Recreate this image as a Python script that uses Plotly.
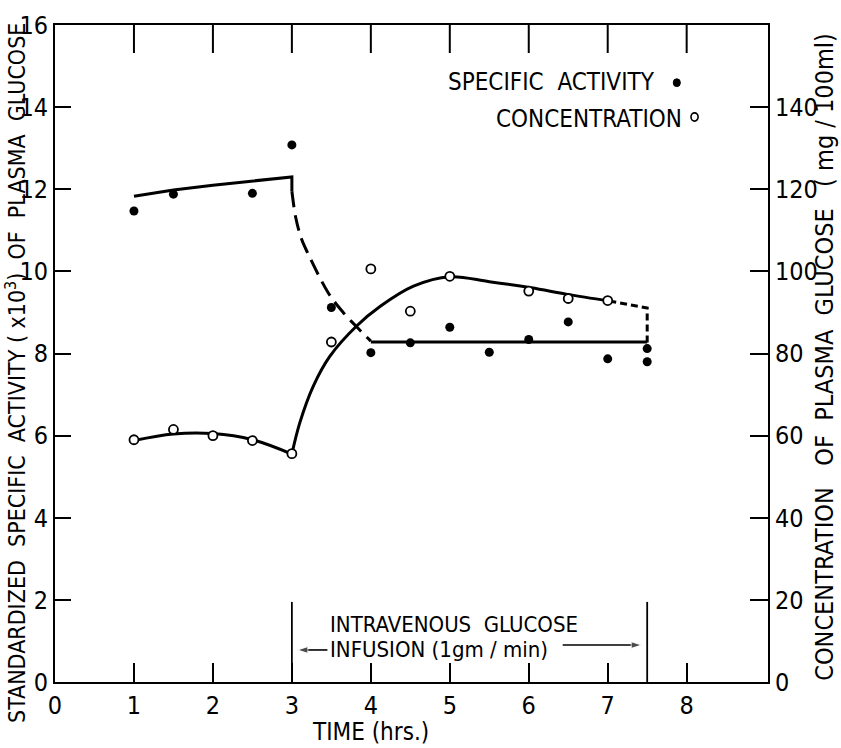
import plotly.graph_objects as go

# Measured points: standardized specific activity (x10^3), left axis
sa_time = [1.0, 1.5, 2.5, 3.0, 3.5, 4.0, 4.5, 5.0, 5.5, 6.0, 6.5, 7.0, 7.5, 7.5]
sa_value = [11.47, 11.88, 11.9, 13.08, 9.12, 8.02, 8.26, 8.64, 8.03, 8.34, 8.77, 7.87, 8.12, 7.8]

# Measured points: plasma glucose concentration (mg/100ml), right axis
conc_time = [1.0, 1.5, 2.0, 2.5, 3.0, 3.5, 4.0, 4.5, 5.0, 6.0, 6.5, 7.0]
conc_value = [59.0, 61.5, 60.0, 58.8, 55.6, 82.8, 100.6, 90.3, 98.8, 95.2, 93.4, 92.9]

# Hand-fitted curves through the specific activity points
sa_fit_pre_t = [1.0, 1.5, 2.0, 2.5, 3.0, 3.0]
sa_fit_pre_v = [11.83, 11.98, 12.1, 12.2, 12.3, 11.95]
sa_fit_drop_t = [3.0, 3.05, 3.12, 3.2, 3.46, 3.65, 3.82, 4.0]
sa_fit_drop_v = [11.95, 11.3, 10.8, 10.45, 9.48, 9.0, 8.65, 8.3]
sa_fit_post_t = [4.0, 7.5]
sa_fit_post_v = [8.28, 8.28]

# Hand-fitted curves through the concentration points
conc_fit_pre_t = [1.0, 1.5, 2.0, 2.5, 3.0]
conc_fit_pre_v = [58.8, 60.4, 60.5, 59.0, 55.5]
conc_fit_post_t = [3.0, 3.1, 3.27, 3.48, 3.82, 4.12, 4.54, 5.0, 5.5, 6.03, 6.49, 7.02]
conc_fit_post_v = [55.5, 63.1, 72.0, 79.3, 86.7, 91.5, 96.4, 98.7, 97.5, 96.0, 94.4, 92.8]
conc_fit_end_t = [7.02, 7.5, 7.5]
conc_fit_end_v = [92.8, 91.1, 81.0]

# Glucose infusion period (hrs)
infusion_start = 3.0
infusion_end = 7.5
infusion_marker_height = 1.95

# Axis ticks
x_ticks = [0, 1, 2, 3, 4, 5, 6, 7, 8]
left_ticks = [0, 2, 4, 6, 8, 10, 12, 14, 16]
right_ticks = [0, 20, 40, 60, 80, 100, 120, 140]
x_range = [0, 9.03]
y_range = [0, 16]

FONT = "Liberation Sans Narrow, DejaVu Sans Condensed, Roboto Condensed, Liberation Sans, sans-serif"
INK = "black"

fig = go.Figure()

# fitted curves
fig.add_trace(go.Scatter(x=sa_fit_pre_t, y=sa_fit_pre_v, mode="lines",
                         line=dict(color=INK, width=3), hoverinfo="skip"))
fig.add_trace(go.Scatter(x=sa_fit_drop_t, y=sa_fit_drop_v, mode="lines",
                         line=dict(color=INK, width=3, shape="spline", dash="16px,8px"),
                         hoverinfo="skip"))
fig.add_trace(go.Scatter(x=sa_fit_post_t, y=sa_fit_post_v, mode="lines",
                         line=dict(color=INK, width=3), hoverinfo="skip"))
fig.add_trace(go.Scatter(x=conc_fit_pre_t, y=conc_fit_pre_v, mode="lines", yaxis="y2",
                         line=dict(color=INK, width=3, shape="spline"), hoverinfo="skip"))
fig.add_trace(go.Scatter(x=conc_fit_post_t, y=conc_fit_post_v, mode="lines", yaxis="y2",
                         line=dict(color=INK, width=3, shape="spline"), hoverinfo="skip"))
fig.add_trace(go.Scatter(x=conc_fit_end_t, y=conc_fit_end_v, mode="lines", yaxis="y2",
                         line=dict(color=INK, width=3, dash="7px,4px"), hoverinfo="skip"))

# infusion boundary markers
for t in (infusion_start, infusion_end):
    fig.add_trace(go.Scatter(x=[t, t], y=[0, infusion_marker_height], mode="lines",
                             line=dict(color=INK, width=1.8), hoverinfo="skip"))

# arrows pointing at the start and end of the infusion
arrow_marker = dict(symbol="arrow", angleref="previous", size=[0, 11], color=INK)
fig.add_trace(go.Scatter(x=[3.45, infusion_start + 0.07], y=[0.78, 0.78], mode="lines+markers",
                         line=dict(color=INK, width=1.6), marker=arrow_marker, hoverinfo="skip"))
fig.add_trace(go.Scatter(x=[6.43, infusion_end - 0.07], y=[0.9, 0.9], mode="lines+markers",
                         line=dict(color=INK, width=1.6), marker=arrow_marker, hoverinfo="skip"))

# inward tick marks on the top frame: vertical bar markers centred on the frame,
# the outer half clipped away by the plot area
fig.add_trace(go.Scatter(x=x_ticks[1:], y=[y_range[1]] * (len(x_ticks) - 1), mode="markers",
                         cliponaxis=True, hoverinfo="skip",
                         marker=dict(symbol="line-ns", size=40,
                                     line=dict(color=INK, width=2))))

# data points
fig.add_trace(go.Scatter(x=sa_time, y=sa_value, mode="markers", name="SPECIFIC ACTIVITY",
                         marker=dict(symbol="circle", size=9, color=INK)))
fig.add_trace(go.Scatter(x=conc_time, y=conc_value, mode="markers", yaxis="y2",
                         name="CONCENTRATION",
                         marker=dict(symbol="circle", size=9, color="white",
                                     line=dict(color=INK, width=1.8))))

axis_common = dict(showgrid=False, zeroline=False, showline=True, linecolor=INK,
                   linewidth=2, ticks="inside", tickcolor=INK, tickwidth=2,
                   tickfont=dict(family=FONT, size=25, color=INK))

fig.update_layout(
    width=841, height=748,
    margin=dict(l=55, r=73, t=25, b=66),
    paper_bgcolor="white", plot_bgcolor="white",
    showlegend=False,
    xaxis=dict(range=x_range, tickvals=x_ticks, ticklen=19, mirror=True, **axis_common),
    yaxis=dict(range=y_range, tickvals=left_ticks, ticklen=16, **axis_common),
    yaxis2=dict(range=[0, 160], tickvals=right_ticks, ticklen=18, overlaying="y",
                side="right", **axis_common),
)

annotations = [
    # axis titles
    dict(text="STANDARDIZED  SPECIFIC  ACTIVITY ( x10<sup>3</sup>)  OF  PLASMA  GLUCOSE",
         xref="paper", yref="paper", x=-0.055, y=0.47, xanchor="center", yanchor="middle",
         textangle=-90, showarrow=False, font=dict(family=FONT, size=23, color=INK)),
    dict(text="CONCENTRATION   OF  PLASMA  GLUCOSE   ( mg / 100ml)",
         xref="paper", yref="paper", x=1.08, y=0.495, xanchor="center", yanchor="middle",
         textangle=-90, showarrow=False, font=dict(family=FONT, size=25, color=INK)),
    dict(text="TIME (hrs.)", xref="paper", yref="paper", x=0.442, y=-0.076,
         xanchor="center", yanchor="middle", showarrow=False,
         font=dict(family=FONT, size=24, color=INK)),
    # legend
    dict(text="SPECIFIC  ACTIVITY", x=7.63, y=14.6, xref="x", yref="y", xanchor="right",
         yanchor="middle", showarrow=False, font=dict(family=FONT, size=24, color=INK)),
    dict(text="CONCENTRATION", x=7.96, y=13.72, xref="x", yref="y", xanchor="right",
         yanchor="middle", showarrow=False, font=dict(family=FONT, size=24, color=INK)),
    # infusion label
    dict(text="INTRAVENOUS  GLUCOSE", x=3.46, y=1.39, xref="x", yref="y", xanchor="left",
         yanchor="middle", showarrow=False, font=dict(family=FONT, size=22, color=INK)),
    dict(text="INFUSION (1gm / min)", x=3.46, y=0.8, xref="x", yref="y", xanchor="left",
         yanchor="middle", showarrow=False, font=dict(family=FONT, size=22, color=INK)),
]
fig.update_layout(annotations=annotations)

# legend symbols beside the legend text
fig.add_shape(type="circle", xref="x", yref="y", x0=7.83, x1=7.92, y0=14.5, y1=14.69,
              fillcolor=INK, line=dict(color=INK, width=1))
fig.add_shape(type="circle", xref="x", yref="y", x0=8.055, x1=8.145, y0=13.66, y1=13.86,
              fillcolor="white", line=dict(color=INK, width=1.6))

fig.write_html("out.html")
